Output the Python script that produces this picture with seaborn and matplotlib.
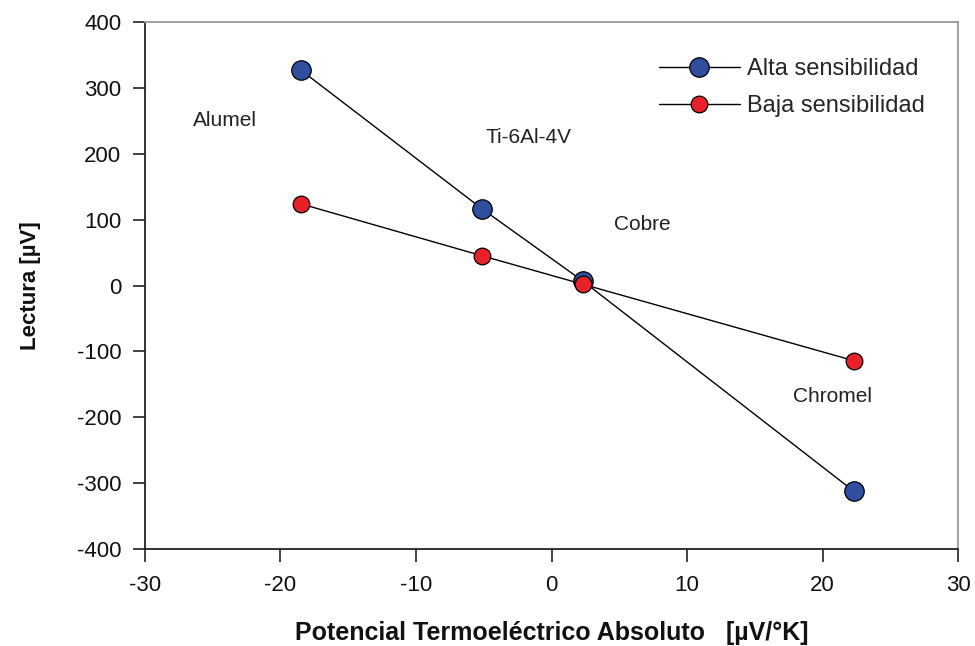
import matplotlib
matplotlib.use("Agg")
import matplotlib.pyplot as plt
import seaborn as sns
import pandas as pd

# Absolute thermoelectric potential of each material [µV/°K]
materiales = ["Alumel", "Ti-6Al-4V", "Cobre", "Chromel"]
potencial = [-18.5, -5.1, 2.3, 22.3]
# Readings [µV]
alta = [327, 116, 7, -312]
baja = [124, 45, 2, -114]

# Label positions for the materials (data coordinates)
etiqueta_x = [-24.1, -1.7, 6.7, 20.7]
etiqueta_y = [251, 225, 92, -168]

sns.set_theme(style="white")
plt.rcParams["font.family"] = ["Liberation Sans", "DejaVu Sans"]
plt.rcParams["axes.unicode_minus"] = False

fig = plt.figure(figsize=(9.75, 6.46), dpi=100)
ax = fig.add_axes([0.1487, 0.150, 0.8339, 0.816])

df = pd.DataFrame({"x": potencial, "alta": alta, "baja": baja})

sns.lineplot(data=df, x="x", y="alta", ax=ax, color="black", lw=1.0,
             marker="o", markersize=14, markerfacecolor="#2f4f9e",
             markeredgecolor="black", markeredgewidth=0.9,
             label="Alta sensibilidad")
sns.lineplot(data=df, x="x", y="baja", ax=ax, color="black", lw=1.0,
             marker="o", markersize=12, markerfacecolor="#e8202a",
             markeredgecolor="black", markeredgewidth=0.9,
             label="Baja sensibilidad")

for nombre, tx, ty in zip(materiales, etiqueta_x, etiqueta_y):
    ax.text(tx, ty, nombre, ha="center", va="center", fontsize=15,
            color="#222222")

ax.set_xlim(-30, 30)
ax.set_ylim(-400, 400)
ax.set_xticks(range(-30, 31, 10))
ax.set_yticks(range(-400, 401, 100))
ax.tick_params(axis="both", labelsize=16, direction="out", length=9,
               width=1.2, color="#222222", labelcolor="#111111",
               left=True, bottom=True)
ax.tick_params(axis="y", pad=8)
ax.tick_params(axis="x", pad=10)

for s in ["left", "bottom"]:
    ax.spines[s].set_color("#222222")
    ax.spines[s].set_linewidth(1.3)
for s in ["top", "right"]:
    ax.spines[s].set_color("#999999")
    ax.spines[s].set_linewidth(1.3)

ax.set_xlabel("Potencial Termoeléctrico Absoluto   [µV/°K]", fontsize=18,
              fontweight="bold", labelpad=18, color="#111111")
ax.set_ylabel("Lectura [µV]", fontsize=16, fontweight="bold", labelpad=26,
              color="#111111")

leg = ax.legend(loc="upper right", bbox_to_anchor=(0.985, 0.972),
                frameon=False, fontsize=17, handlelength=3.4,
                handletextpad=0.3, labelspacing=0.65)

fig.savefig("out.png", dpi=100, facecolor="white")
